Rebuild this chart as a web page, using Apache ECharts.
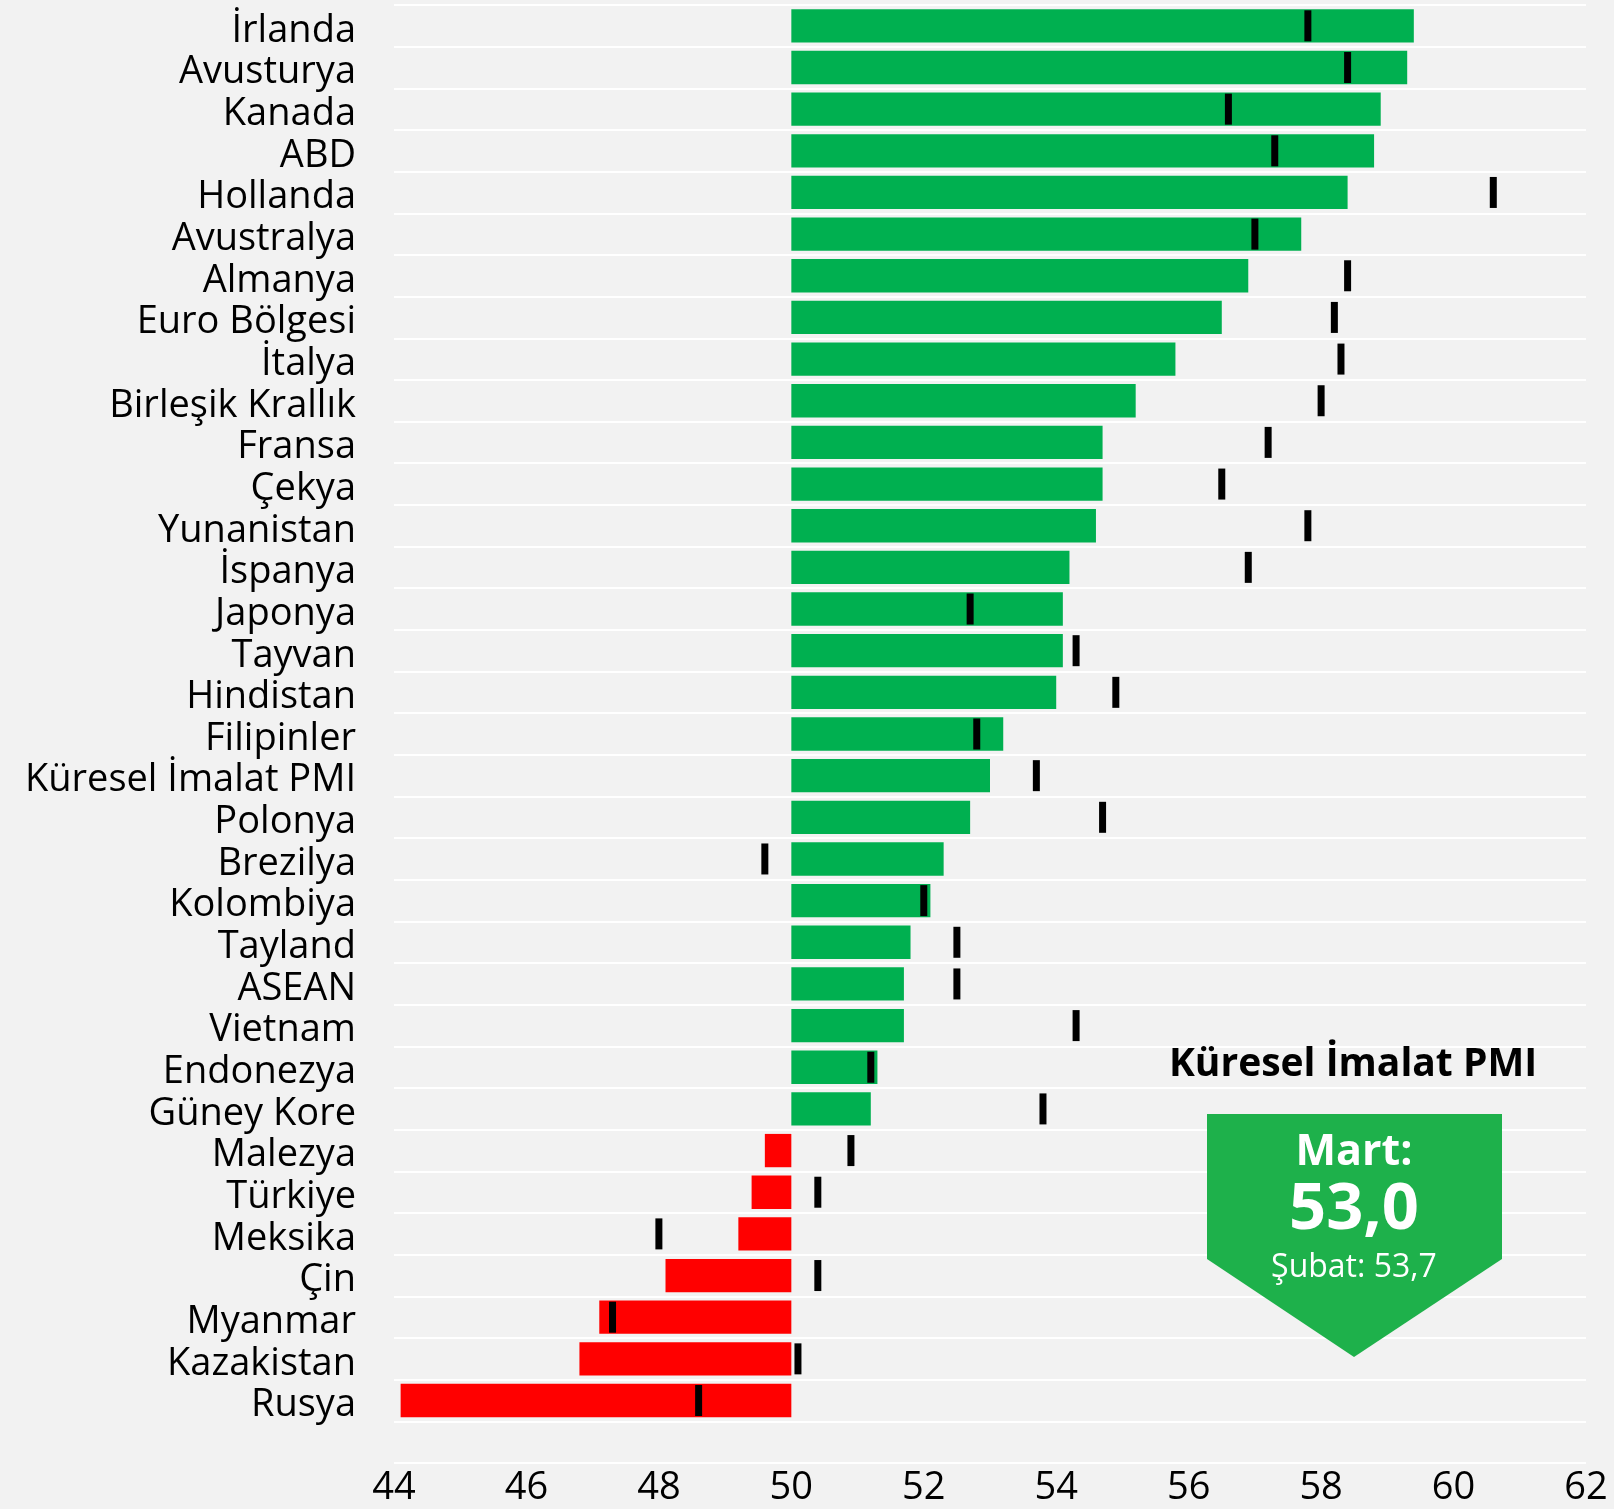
<!DOCTYPE html>
<html>
<head>
<meta charset="utf-8">
<script src="https://cdn.jsdelivr.net/npm/echarts@6/dist/echarts.min.js"></script>
<style>
  html, body { margin: 0; padding: 0; background: #f2f2f2; }
  #chart { width: 1614px; height: 1509px; }
</style>
</head>
<body>
<div id="chart"></div>
<script>
// ülkeler (yukarıdan aşağıya)
var countries = ['İrlanda', 'Avusturya', 'Kanada', 'ABD', 'Hollanda', 'Avustralya', 'Almanya',
  'Euro Bölgesi', 'İtalya', 'Birleşik Krallık', 'Fransa', 'Çekya', 'Yunanistan', 'İspanya',
  'Japonya', 'Tayvan', 'Hindistan', 'Filipinler', 'Küresel İmalat PMI', 'Polonya', 'Brezilya',
  'Kolombiya', 'Tayland', 'ASEAN', 'Vietnam', 'Endonezya', 'Güney Kore', 'Malezya', 'Türkiye',
  'Meksika', 'Çin', 'Myanmar', 'Kazakistan', 'Rusya'];
// Mart PMI
var mart = [59.4, 59.3, 58.9, 58.8, 58.4, 57.7, 56.9, 56.5, 55.8, 55.2, 54.7, 54.7, 54.6, 54.2,
  54.1, 54.1, 54.0, 53.2, 53.0, 52.7, 52.3, 52.1, 51.8, 51.7, 51.7, 51.3, 51.2, 49.6, 49.4,
  49.2, 48.1, 47.1, 46.8, 44.1];
// Şubat PMI
var subat = [57.8, 58.4, 56.6, 57.3, 60.6, 57.0, 58.4, 58.2, 58.3, 58.0, 57.2, 56.5, 57.8, 56.9,
  52.7, 54.3, 54.9, 52.8, 53.7, 54.7, 49.6, 52.0, 52.5, 52.5, 54.3, 51.2, 53.8, 50.9, 50.4,
  48.0, 50.4, 47.3, 50.1, 48.6];
var xTicks = [44, 46, 48, 50, 52, 54, 56, 58, 60, 62];
var esik = 50;
var kuresel = { baslik: 'Küresel İmalat PMI', mart: '53,0', subat: '53,7' };

var FONT = '"Open Sans", "Noto Sans", sans-serif';

// boş bir kategori en alta (Excel'deki gibi bir satır boşluk)
var cats = countries.concat(['']);
var baseData = mart.map(function (v) { return Math.min(v, esik); });
var lenData = mart.map(function (v) {
  return {
    value: Math.abs(v - esik),
    itemStyle: { color: v >= esik ? '#00b050' : '#ff0000' }
  };
});
var markData = subat.map(function (v, i) { return [v, countries[i]]; });

var myChart = echarts.init(document.getElementById('chart'));
var option = {
  backgroundColor: '#f2f2f2',
  animation: false,
  grid: { left: 394, right: 28, top: 5, bottom: 46, containLabel: false },
  xAxis: {
    type: 'value',
    min: xTicks[0],
    max: xTicks[xTicks.length - 1],
    interval: 2,
    axisLine: { show: false },
    axisTick: { show: false },
    splitLine: { show: false },
    axisLabel: { fontFamily: FONT, fontSize: 38, color: '#000', margin: 6 }
  },
  yAxis: {
    type: 'category',
    data: cats,
    inverse: true,
    axisLine: { show: false },
    axisTick: { show: false },
    splitLine: { show: true, lineStyle: { color: '#ffffff', width: 2 } },
    axisLabel: {
      interval: 0, color: '#000', margin: 38,
      formatter: function (v) { return v ? '{c|' + v + '}' : ''; },
      rich: {
        c: { fontFamily: FONT, fontSize: 38, color: '#000', padding: [10, 0, 0, 0] }
      }
    }
  },
  series: [
    {
      type: 'bar', stack: 'pmi', data: baseData,
      itemStyle: { color: 'transparent' }, barCategoryGap: '20%', silent: true
    },
    {
      type: 'bar', stack: 'pmi', data: lenData, barCategoryGap: '20%'
    },
    {
      type: 'scatter', data: markData, symbol: 'rect', symbolSize: [7, 31],
      itemStyle: { color: '#000', opacity: 1 }, z: 5
    }
  ],
  graphic: [
    {
      type: 'text', x: 1353, y: 1065, z: 100,
      style: {
        text: kuresel.baslik, font: 'bold 39px ' + FONT, fill: '#000',
        align: 'center', verticalAlign: 'middle'
      }
    },
    {
      type: 'polygon', z: 100,
      shape: { points: [[1207, 1114], [1502, 1114], [1502, 1259], [1354, 1357], [1207, 1259]] },
      style: { fill: '#1eb14b' }
    },
    {
      type: 'text', x: 1354, y: 1153, z: 101,
      style: { text: 'Mart:', font: 'bold 43px ' + FONT, fill: '#fff', align: 'center', verticalAlign: 'middle' }
    },
    {
      type: 'text', x: 1354, y: 1210, z: 101,
      style: { text: kuresel.mart, font: 'bold 65px ' + FONT, fill: '#fff', align: 'center', verticalAlign: 'middle' }
    },
    {
      type: 'text', x: 1354, y: 1268, z: 101,
      style: { text: 'Şubat: ' + kuresel.subat, font: '32px ' + FONT, fill: '#fff', align: 'center', verticalAlign: 'middle' }
    }
  ]
};
window.onresize = myChart.resize;
myChart.setOption(option);
</script>
</body>
</html>
